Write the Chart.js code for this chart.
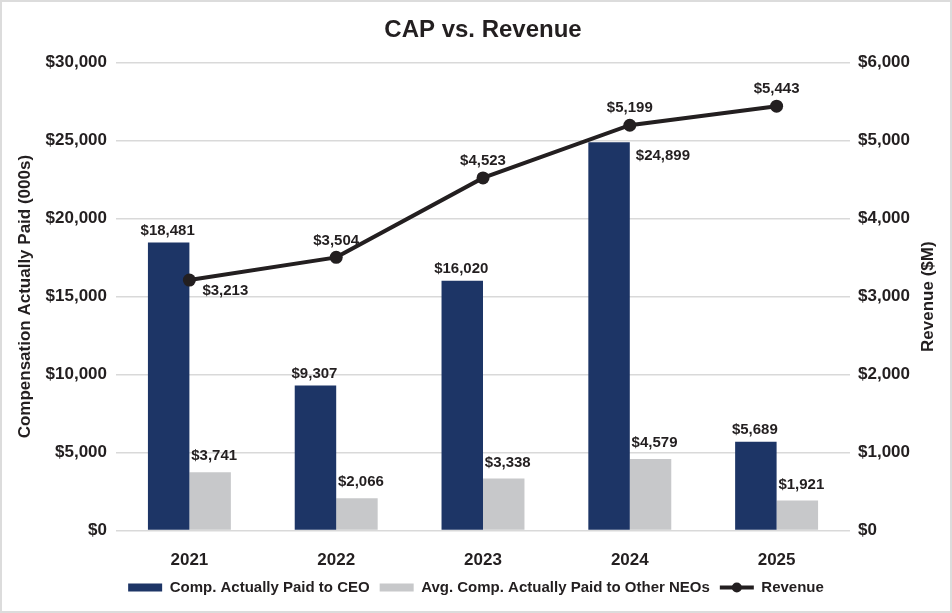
<!DOCTYPE html>
<html>
<head>
<meta charset="utf-8">
<script src="https://cdn.jsdelivr.net/npm/chart.js@4/dist/chart.umd.min.js"></script>
<style>
  html, body { margin: 0; padding: 0; background: #fff; }
  #wrap { width: 948px; height: 609px; border: 2px solid #dcdcdc; }
  canvas { display: block; }
</style>
</head>
<body>
<div id="wrap"><canvas id="capChart" width="948" height="609"></canvas></div>
<script>
const years = ["2021", "2022", "2023", "2024", "2025"];
const ceoCap = [18481, 9307, 16020, 24899, 5689];
const neoCap = [3741, 2066, 3338, 4579, 1921];
const revenue = [3213, 3504, 4523, 5199, 5443];
const compTicks = [0, 5000, 10000, 15000, 20000, 25000, 30000];
const revTicks = [0, 1000, 2000, 3000, 4000, 5000, 6000];

const FONT = '"Liberation Sans", Arial, Helvetica, sans-serif';
const INK = "#231f20";
const NAVY = "#1d3566";
const GREY = "#c7c8ca";

const money = (v) => "$" + Number(v).toLocaleString("en-US");

// label placement per dataset (dx, dy from the mark, and alignment)
const labelPlace = {
  0: (i) => (i === 3 ? { dx: 6, dy: 14, align: "left", fromRight: true } : { dx: -1, dy: -12, align: "center" }),
  1: () => ({ dx: 4, dy: -16, align: "center" }),
  2: (i) => (i === 0 ? { dx: 13, dy: 11, align: "left" } : { dx: 0, dy: -17, align: "center" }),
};

const extras = {
  id: "extras",
  afterDatasetsDraw(chart) {
    const ctx = chart.ctx;
    ctx.save();
    ctx.fillStyle = INK;
    ctx.font = "bold 15px " + FONT;
    ctx.textBaseline = "middle";
    chart.data.datasets.forEach((ds, di) => {
      const meta = chart.getDatasetMeta(di);
      meta.data.forEach((el, i) => {
        const p = labelPlace[di](i);
        let x = el.x + p.dx;
        if (p.fromRight) x = el.x + el.width / 2 + p.dx;
        ctx.textAlign = p.align;
        ctx.fillText(money(ds.data[i]), x, el.y + p.dy);
      });
    });
    ctx.restore();
  },
  afterDraw(chart) {
    const ctx = chart.ctx;
    // right axis title reads bottom-to-top
    const yR = chart.scales.yR;
    ctx.save();
    ctx.fillStyle = INK;
    ctx.font = "bold 17px " + FONT;
    ctx.textAlign = "center";
    ctx.textBaseline = "middle";
    ctx.translate(926, (yR.top + yR.bottom) / 2);
    ctx.rotate(-Math.PI / 2);
    ctx.fillText("Revenue ($M)", 0, 0);
    ctx.restore();

    // line + marker for the revenue legend entry
    const hb = chart.legend.legendHitBoxes[2];
    if (hb) {
      const cy = hb.top + hb.height / 2;
      ctx.save();
      ctx.strokeStyle = INK;
      ctx.fillStyle = INK;
      ctx.lineWidth = 4;
      ctx.beginPath();
      ctx.moveTo(hb.left, cy);
      ctx.lineTo(hb.left + 34, cy);
      ctx.stroke();
      ctx.beginPath();
      ctx.arc(hb.left + 17, cy, 5, 0, Math.PI * 2);
      ctx.fill();
      ctx.restore();
    }
  },
};

new Chart(document.getElementById("capChart"), {
  type: "bar",
  data: {
    labels: years,
    datasets: [
      {
        label: "Comp. Actually Paid to CEO",
        data: ceoCap,
        backgroundColor: NAVY,
        yAxisID: "y",
        order: 1,
      },
      {
        label: "Avg. Comp. Actually Paid to Other NEOs",
        data: neoCap,
        backgroundColor: GREY,
        yAxisID: "y",
        order: 1,
      },
      {
        type: "line",
        label: "Revenue",
        data: revenue,
        borderColor: INK,
        backgroundColor: INK,
        borderWidth: 4,
        pointRadius: 6.5,
        pointBackgroundColor: INK,
        pointBorderWidth: 0,
        tension: 0,
        yAxisID: "yR",
        order: 0,
      },
    ],
  },
  options: {
    responsive: false,
    animation: false,
    datasets: {
      bar: { categoryPercentage: 0.565, barPercentage: 1 },
    },
    layout: { padding: { left: 0, right: 0, top: 0, bottom: 6 } },
    plugins: {
      tooltip: { enabled: false },
      title: {
        display: true,
        fullSize: false,
        text: "CAP vs. Revenue",
        color: INK,
        font: { family: FONT, size: 24, weight: "bold" },
        padding: { top: 14, bottom: 18 },
      },
      legend: {
        position: "bottom",
        labels: {
          color: INK,
          font: { family: FONT, size: 15, weight: "bold" },
          boxWidth: 34,
          boxHeight: 8,
          padding: 10,
          sort: (a, b) => a.datasetIndex - b.datasetIndex,
          generateLabels(chart) {
            const items = Chart.defaults.plugins.legend.labels.generateLabels(chart);
            items.forEach((it) => {
              it.lineWidth = 0;
              if (it.datasetIndex === 2) {
                it.fillStyle = "rgba(0,0,0,0)";
                it.strokeStyle = "rgba(0,0,0,0)";
              }
            });
            return items;
          },
        },
      },
    },
    scales: {
      x: {
        grid: { display: false },
        border: { display: false },
        ticks: { color: INK, font: { family: FONT, size: 17, weight: "bold" }, padding: 12 },
        afterFit(scale) { scale.height = 39.5; },
      },
      y: {
        position: "left",
        min: 0,
        max: 30000,
        afterBuildTicks(scale) { scale.ticks = compTicks.map((v) => ({ value: v })); },
        grid: { color: "#d9d9d9", lineWidth: 1.5, drawTicks: false },
        border: { display: false },
        ticks: {
          color: INK,
          padding: 9,
          font: { family: FONT, size: 17, weight: "bold" },
          callback: (v) => money(v),
        },
        title: {
          display: true,
          text: "Compensation Actually Paid (000s)",
          color: INK,
          font: { family: FONT, size: 17, weight: "bold" },
          padding: { top: 13, bottom: 0 },
        },
        afterFit(scale) { scale.width = 114; },
      },
      yR: {
        position: "right",
        min: 0,
        max: 6000,
        afterBuildTicks(scale) { scale.ticks = revTicks.map((v) => ({ value: v })); },
        grid: { display: false, drawTicks: false },
        border: { display: false },
        ticks: {
          color: INK,
          padding: 8,
          font: { family: FONT, size: 17, weight: "bold" },
          callback: (v) => money(v),
        },
        afterFit(scale) { scale.width = 100; },
      },
    },
  },
  plugins: [extras],
});
</script>
</body>
</html>
